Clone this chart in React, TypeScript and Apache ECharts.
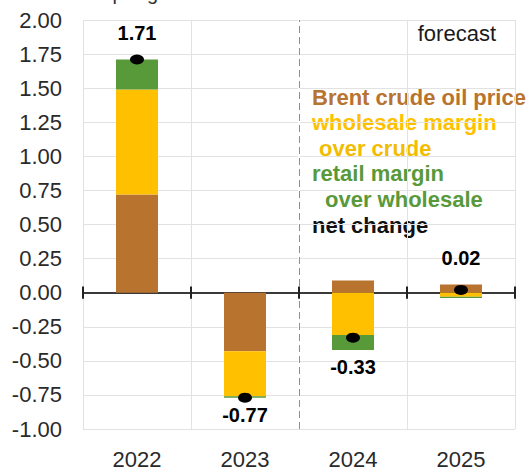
import React, { useEffect, useRef } from "react";
import * as echarts from "echarts";

const years = ["2022", "2023", "2024", "2025"];
const brentCrude = [0.72, -0.43, 0.09, 0.06];
const wholesaleMargin = [0.77, -0.33, -0.31, -0.03];
const retailMargin = [0.22, -0.01, -0.11, -0.01];
const netChange = [1.71, -0.77, -0.33, 0.02];
const forecastStartIndex = 2;

const legendLines = [
  { text: "Brent crude oil price", color: "#B8732F", indent: 0 },
  { text: "wholesale margin", color: "#FFC000", indent: 0 },
  { text: "over crude", color: "#F2BC00", indent: 7 },
  { text: "retail margin", color: "#58993A", indent: 0 },
  { text: "over wholesale", color: "#58993A", indent: 13 },
  { text: "net change", color: "#111111", indent: 0 },
];

const FONT = "'Liberation Sans', Arial, sans-serif";

export default function App() {
  const ref = useRef<HTMLDivElement>(null);

  useEffect(() => {
    if (!ref.current) return;
    const chart = echarts.init(ref.current, null, { renderer: "svg" });

    const comps = [brentCrude, wholesaleMargin, retailMargin];
    const labelData = years.map((_, i) => {
      let pos = 0;
      let neg = 0;
      comps.forEach((c) => {
        if (c[i] >= 0) pos += c[i];
        else neg += c[i];
      });
      const up = netChange[i] >= 0;
      return {
        value: up ? pos : neg,
        label: { position: up ? "top" : "bottom", distance: up ? 16 : 7 },
      };
    });

    const boundaries = Array.from({ length: years.length + 1 }, (_, i) => i);
    const tickHalf = 0.045;

    const barBase = {
      type: "bar",
      stack: "total",
      barWidth: 42,
      xAxisIndex: 0,
    };

    chart.setOption({
      animation: false,
      textStyle: { fontFamily: FONT },
      grid: { left: 83, right: 15, top: 20, bottom: 43, containLabel: false },
      xAxis: [
        {
          type: "category",
          data: years,
          position: "bottom",
          axisLine: { show: false, onZero: false },
          axisTick: { show: false },
          axisLabel: { fontSize: 22, color: "#2a2a2a", margin: 19, fontFamily: FONT },
          splitLine: { show: false },
        },
        {
          type: "category",
          data: years,
          position: "bottom",
          axisLine: { show: true, onZero: true, lineStyle: { color: "#3a3a3a", width: 2 } },
          axisTick: { show: false },
          axisLabel: { show: false },
          splitLine: { show: false },
        },
        {
          type: "value",
          min: 0,
          max: years.length,
          interval: 1,
          position: "top",
          axisLine: { show: false, onZero: false },
          axisTick: { show: false },
          axisLabel: { show: false },
          splitLine: { show: true, lineStyle: { color: "#e2e2e2", width: 1 } },
        },
      ],
      yAxis: {
        type: "value",
        min: -1,
        max: 2,
        interval: 0.25,
        axisLine: { show: false },
        axisTick: { show: false },
        axisLabel: {
          fontSize: 22,
          color: "#2a2a2a",
          margin: 21,
          fontFamily: FONT,
          formatter: (v: number) => v.toFixed(2),
        },
        splitLine: { lineStyle: { color: "#e2e2e2", width: 1 } },
      },
      series: [
        { ...barBase, name: "Brent crude oil price", data: brentCrude, itemStyle: { color: "#B8732F" } },
        { ...barBase, name: "wholesale margin over crude", data: wholesaleMargin, itemStyle: { color: "#FFC000" } },
        { ...barBase, name: "retail margin over wholesale", data: retailMargin, itemStyle: { color: "#58993A" } },
        {
          type: "line",
          name: "guides",
          xAxisIndex: 2,
          data: [],
          silent: true,
          markLine: {
            silent: true,
            symbol: "none",
            label: { show: false },
            data: [
              { xAxis: forecastStartIndex, lineStyle: { color: "#ffffff", width: 2, type: "solid" } },
              { xAxis: forecastStartIndex, lineStyle: { color: "#8f8f8f", width: 1, type: [7, 4] } },
              ...boundaries.map((b) => [
                { coord: [b, tickHalf], lineStyle: { color: "#222", width: 2, type: "solid" } },
                { coord: [b, -tickHalf] },
              ]),
            ],
          },
          z: 4,
        },
        {
          type: "scatter",
          name: "net change",
          xAxisIndex: 0,
          data: netChange,
          symbol: "circle",
          symbolSize: [14, 10],
          itemStyle: { color: "#000", opacity: 1 },
          z: 5,
        },
        {
          type: "scatter",
          name: "net label",
          xAxisIndex: 0,
          data: labelData,
          symbolSize: 1,
          itemStyle: { color: "rgba(0,0,0,0)", opacity: 1 },
          label: {
            show: true,
            fontSize: 20,
            fontWeight: "bold",
            color: "#000",
            fontFamily: FONT,
            formatter: (p: any) => netChange[p.dataIndex].toFixed(2),
          },
          z: 6,
        },
      ],
      graphic: [
        {
          type: "text",
          left: 48,
          top: -17,
          silent: true,
          style: { text: "dollars per gallon", fill: "#333", font: `20px ${FONT}` },
        },
        {
          type: "text",
          x: 496,
          y: 33,
          style: {
            text: "forecast",
            font: `22px ${FONT}`,
            fill: "#1a1a1a",
            align: "right",
            verticalAlign: "middle",
          },
        },
        ...legendLines.map((l, i) => ({
          type: "text",
          x: 312 + l.indent,
          y: 97 + i * 25.6,
          style: {
            text: l.text,
            font: `bold 22px ${FONT}`,
            fill: l.color,
            align: "left",
            verticalAlign: "middle",
          },
        })),
      ],
    });

    return () => chart.dispose();
  }, []);

  return (
    <div
      ref={ref}
      style={{ position: "fixed", left: 0, top: 0, width: 530, height: 472, background: "#fff" }}
    />
  );
}
